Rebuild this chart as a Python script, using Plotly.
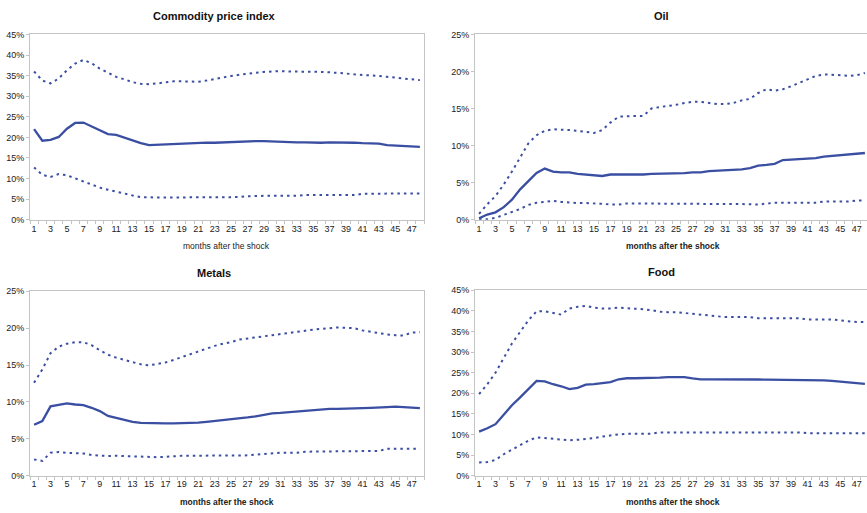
import plotly.graph_objects as go

W, H = 867, 513

months = list(range(1, 49))
tick_months = list(range(1, 48, 2))

# Commodity price index (%)
cpi_mid = [22.0, 19.2, 19.4, 20.1, 22.1, 23.5, 23.6, 22.6, 21.6, 20.8, 20.6, 19.9,
           19.2, 18.6, 18.1, 18.2, 18.3, 18.4, 18.5, 18.5, 18.6, 18.7, 18.7, 18.8,
           18.9, 18.9, 19.1, 19.1, 19.1, 19.0, 19.0, 18.9, 18.8, 18.8, 18.7, 18.7,
           18.8, 18.8, 18.8, 18.7, 18.6, 18.6, 18.5, 18.1, 18.0, 17.9, 17.8, 17.7]
cpi_hi = [36.0, 33.8, 33.1, 34.3, 36.3, 37.9, 38.8, 38.0, 36.7, 35.7, 34.7, 34.1,
          33.4, 33.0, 32.9, 33.1, 33.4, 33.6, 33.6, 33.5, 33.5, 33.8, 34.2, 34.5,
          34.9, 35.2, 35.5, 35.7, 35.9, 36.0, 36.1, 36.0, 36.0, 36.0, 36.0, 35.9,
          35.8, 35.7, 35.5, 35.3, 35.2, 35.0, 34.9, 34.7, 34.5, 34.4, 34.2, 33.9]
cpi_lo = [12.7, 10.9, 10.4, 11.1, 10.8, 10.0, 9.4, 8.6, 7.8, 7.3, 6.8, 6.3,
          5.9, 5.5, 5.4, 5.4, 5.4, 5.4, 5.4, 5.4, 5.4, 5.4, 5.5, 5.5,
          5.5, 5.5, 5.7, 5.8, 5.8, 5.8, 5.8, 5.8, 5.8, 6.0, 6.0, 6.0,
          6.0, 6.0, 6.0, 6.0, 6.3, 6.3, 6.3, 6.3, 6.3, 6.3, 6.3, 6.4]

# Oil (%)
oil_mid = [0.2, 0.7, 1.0, 1.7, 2.7, 4.1, 5.2, 6.3, 6.9, 6.5, 6.4, 6.4,
           6.2, 6.1, 6.0, 5.9, 6.1, 6.1, 6.0, 6.0, 6.1, 6.2, 6.2, 6.2,
           6.25, 6.3, 6.4, 6.4, 6.55, 6.6, 6.65, 6.7, 6.8, 6.95, 7.3, 7.4,
           7.55, 8.05, 8.1, 8.2, 8.25, 8.3, 8.5, 8.6, 8.7, 8.8, 8.9, 9.0]
oil_hi = [0.8, 2.1, 3.2, 4.75, 6.5, 8.5, 10.3, 11.4, 12.0, 12.2, 12.2, 12.1,
          12.0, 11.9, 11.7, 12.1, 13.1, 13.9, 14.0, 14.0, 14.0, 15.0, 15.2, 15.3,
          15.5, 15.75, 15.9, 15.9, 15.75, 15.6, 15.6, 15.75, 16.1, 16.3, 17.1, 17.6,
          17.4, 17.6, 18.0, 18.5, 18.9, 19.4, 19.6, 19.6, 19.5, 19.4, 19.5, 19.8]
oil_lo = [0.1, 0.05, 0.25, 0.66, 1.0, 1.45, 2.0, 2.3, 2.4, 2.55, 2.4, 2.3,
          2.25, 2.25, 2.25, 2.15, 2.05, 2.05, 2.2, 2.2, 2.2, 2.2, 2.2, 2.2,
          2.2, 2.2, 2.2, 2.2, 2.2, 2.2, 2.2, 2.2, 2.2, 2.1, 2.05, 2.2,
          2.3, 2.3, 2.3, 2.3, 2.3, 2.3, 2.45, 2.45, 2.45, 2.45, 2.6, 2.6]

# Metals (%)
met_mid = [6.9, 7.4, 9.4, 9.65, 9.8, 9.65, 9.55, 9.2, 8.75, 8.1, 7.8, 7.6,
           7.3, 7.15, 7.1, 7.05, 7.1, 7.1, 7.1, 7.1, 7.2, 7.3, 7.4, 7.55,
           7.65, 7.75, 7.9, 8.05, 8.3, 8.45, 8.5, 8.6, 8.75, 8.85, 8.95, 9.0,
           9.05, 9.05, 9.05, 9.05, 9.15, 9.2, 9.2, 9.3, 9.35, 9.3, 9.15, 9.15]
met_hi = [12.6, 14.4, 16.6, 17.5, 17.9, 18.1, 18.1, 17.7, 17.0, 16.4, 16.0, 15.7,
          15.35, 15.1, 14.95, 15.1, 15.35, 15.7, 16.1, 16.5, 16.8, 17.3, 17.6, 17.9,
          18.1, 18.45, 18.6, 18.7, 18.9, 19.1, 19.2, 19.4, 19.55, 19.7, 19.8, 19.9,
          20.0, 20.1, 20.05, 20.0, 19.7, 19.5, 19.25, 19.15, 19.05, 19.0, 19.4, 19.45]
met_lo = [2.2, 2.0, 3.1, 3.2, 3.1, 3.1, 3.0, 2.8, 2.7, 2.65, 2.7, 2.65,
          2.6, 2.55, 2.5, 2.5, 2.55, 2.65, 2.7, 2.7, 2.7, 2.7, 2.75, 2.75,
          2.75, 2.75, 2.75, 2.85, 2.95, 3.1, 3.1, 3.1, 3.1, 3.25, 3.25, 3.25,
          3.25, 3.35, 3.35, 3.35, 3.35, 3.35, 3.35, 3.65, 3.65, 3.65, 3.65, 3.65]

# Food (%)
food_mid = [10.7, 11.5, 12.5, 14.7, 17.1, 19.0, 21.0, 23.0, 22.9, 22.2, 21.7, 21.0,
            21.3, 22.1, 22.2, 22.4, 22.7, 23.4, 23.65, 23.65, 23.65, 23.65, 23.8, 23.9,
            23.9, 23.9, 23.6, 23.4, 23.4, 23.4, 23.4, 23.45, 23.5, 23.4, 23.35, 23.3,
            23.3, 23.2, 23.2, 23.2, 23.2, 23.2, 23.15, 23.0, 22.8, 22.6, 22.5, 22.3]
food_hi = [19.8, 22.2, 25.0, 28.6, 32.1, 34.9, 37.7, 39.9, 39.9, 39.5, 39.1, 40.6,
           41.0, 41.2, 40.8, 40.6, 40.6, 40.8, 40.7, 40.6, 40.4, 40.2, 39.8, 39.7,
           39.7, 39.5, 39.3, 39.1, 38.9, 38.7, 38.5, 38.5, 38.5, 38.5, 38.25, 38.25,
           38.25, 38.25, 38.25, 38.25, 37.9, 37.9, 37.9, 37.9, 37.7, 37.5, 37.3, 37.3]
food_lo = [3.2, 3.3, 3.8, 5.2, 6.3, 7.5, 8.5, 9.3, 9.1, 8.9, 8.7, 8.6,
           8.7, 8.9, 9.1, 9.5, 9.8, 10.0, 10.2, 10.2, 10.2, 10.2, 10.5, 10.5,
           10.5, 10.5, 10.5, 10.5, 10.5, 10.5, 10.5, 10.5, 10.5, 10.5, 10.5, 10.5,
           10.5, 10.5, 10.5, 10.5, 10.3, 10.3, 10.3, 10.3, 10.3, 10.3, 10.3, 10.3]

BLUE = "#3a4ea2"
BORDER = "#c4c4c4"
TXT = "#222222"
FONT = "Liberation Sans, Arial, sans-serif"


def fx(px):
    return px / W


def fy(py):
    return 1 - py / H


# (title, mid, hi, lo, ymax, x-pixels of plot, y-pixels of plot, bold axis title, right column)
panels = [
    ("Commodity price index", cpi_mid, cpi_hi, cpi_lo, 45, (30, 424), (30, 219), False, False),
    ("Oil", oil_mid, oil_hi, oil_lo, 25, (475, 867), (30, 219), True, True),
    ("Metals", met_mid, met_hi, met_lo, 25, (30, 424), (292, 480), True, False),
    ("Food", food_mid, food_hi, food_lo, 45, (475, 867), (291, 480), True, True),
]

fig = go.Figure()
layout = dict(
    width=W, height=H,
    margin=dict(l=0, r=0, t=0, b=0),
    paper_bgcolor="white", plot_bgcolor="white",
    showlegend=False,
    font=dict(family=FONT, color=TXT, size=9),
)
annotations = []
step = (424 - 30) / 48.0

for i, (title, mid, hi, lo, ymax, (x0, x1), (y0, y1), bold_xt, right) in enumerate(panels, start=1):
    xa = "x" if i == 1 else f"x{i}"
    ya = "y" if i == 1 else f"y{i}"
    for vals, dash, lw in ((hi, "2.5px,4px", 2), (lo, "2.5px,4px", 2), (mid, None, 2.3)):
        line = dict(color=BLUE, width=lw)
        if dash:
            line["dash"] = dash
        fig.add_trace(go.Scatter(x=months, y=vals, mode="lines", line=line,
                                 xaxis=xa, yaxis=ya, hoverinfo="skip"))
    xmax = 0.5 + (x1 - x0) / step
    layout[f"xaxis{'' if i == 1 else i}"] = dict(
        domain=[fx(x0), fx(x1)], anchor=ya, range=[0.5, xmax],
        tickmode="array", tickvals=tick_months, ticks="",
        showline=True, linecolor=BORDER, linewidth=1, mirror=True,
        showgrid=False, zeroline=False,
        tickfont=dict(size=9, color=TXT, family=FONT),
        minor=dict(tickmode="array", tickvals=[m - 0.5 for m in months] + [48.5],
                   ticks="outside", ticklen=3, tickcolor=BORDER, showgrid=False),
        fixedrange=True,
    )
    layout[f"yaxis{'' if i == 1 else i}"] = dict(
        domain=[fy(y1), fy(y0)], anchor=xa, range=[0, ymax],
        tickmode="linear", tick0=0, dtick=5, ticksuffix="%",
        ticks="outside", ticklen=3, tickcolor=BORDER,
        showline=True, linecolor=BORDER, linewidth=1, mirror=not right,
        showgrid=False, zeroline=False,
        tickfont=dict(size=9, color=TXT, family=FONT),
        fixedrange=True,
    )
    # panel title
    tx = 214 if not right else 661
    annotations.append(dict(
        text=f"<b>{title}</b>", x=fx(tx), y=fy(y0 - 19), xref="paper", yref="paper",
        showarrow=False, xanchor="center", yanchor="middle",
        font=dict(size=11, color="#111111", family=FONT)))
    # x-axis title
    ax_x = 227 if not right else 673
    txt = "months after the shock"
    annotations.append(dict(
        text=f"<b>{txt}</b>" if bold_xt else txt, x=fx(ax_x), y=fy(y1 + 27),
        xref="paper", yref="paper", showarrow=False,
        xanchor="center", yanchor="middle",
        font=dict(size=8.5, color=TXT, family=FONT)))

layout["annotations"] = annotations
fig.update_layout(**layout)
fig.write_html("out.html")
